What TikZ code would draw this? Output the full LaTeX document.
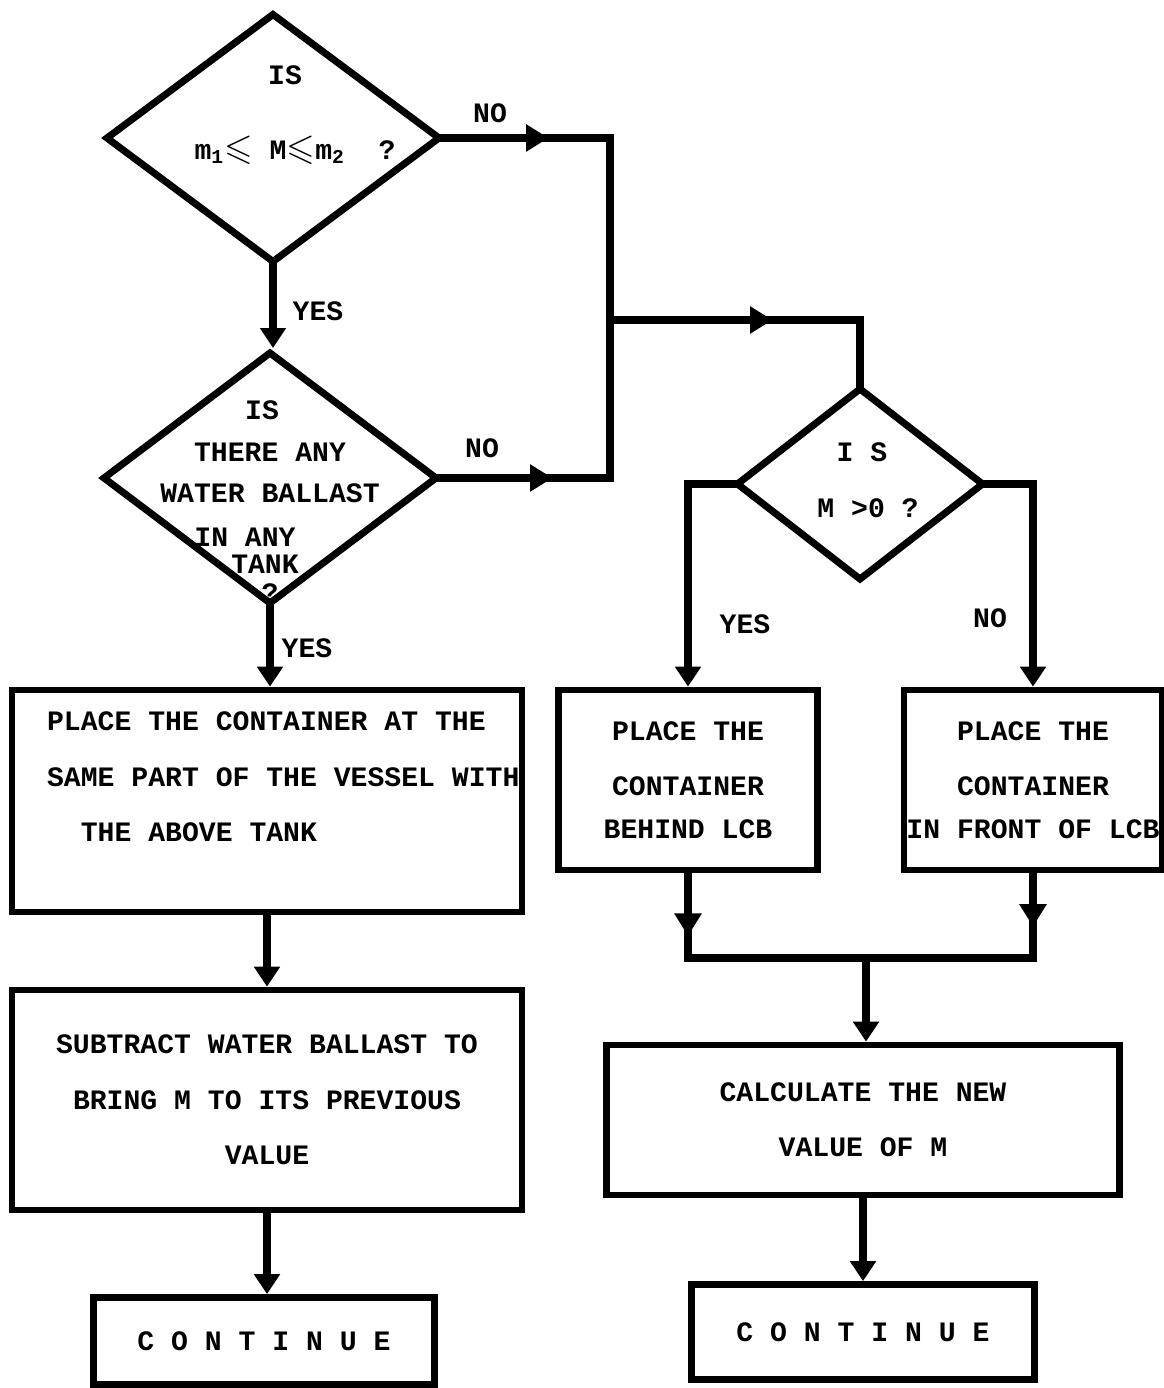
\documentclass[tikz,border=0pt]{standalone}
\usepackage{fontspec}
\usepackage{amssymb}
\newfontfamily\flowfont{Liberation Mono}
\usepackage{tikz}
\usetikzlibrary{shapes.geometric,arrows.meta,decorations.markings}
\tikzset{
    decision/.style={
        diamond,draw,line width=4pt,
        inner sep=0pt,minimum width=6.7cm,minimum height=5cm
    },
    action/.style={
        draw,line width=3.8pt,
        align=center,inner sep=0pt,
        font=\flowfont\bfseries\fontsize{16}{31.5}\selectfont
    },
    flow text/.style={
        font=\flowfont\bfseries\fontsize{16}{31.5}\selectfont,
        inner sep=1pt
    },
    flow line/.style={line width=5pt,line cap=rect},
    mid arrow/.style={
        postaction={decorate},
        decoration={markings,
            mark=at position #1 with {\arrow{Triangle[length=0.45cm,width=0.52cm]}}}
    },
    >={Triangle[length=0.4cm,width=0.5cm]}
}
\newcommand{\bigleq}{{\fontsize{21}{21}\selectfont$\leqslant$}}
\begin{document}
\begin{tikzpicture}[x=0.02cm,y=-0.02cm]
\useasboundingbox (0,0) rectangle (1163,1388);
% decisions
\node[decision] (range) at (273,138) {};
\node[decision,minimum height=5.06cm] (ballast) at (270,478) {};
\node[decision,minimum width=4.96cm,minimum height=3.86cm] (sign) at (860,484) {};
\node[flow text] (range is) at (285,75) {IS};
\node[flow text] (range q) at (295,150) {m\textsubscript{1}\bigleq\ M\bigleq m\textsubscript{2}~~?};
\foreach \x/\y/\txt in {262/410/IS,270/452/THERE ANY,270/493/WATER BALLAST,245/537/IN ANY,265/564/TANK,270/593/?}
    \node[flow text,inner sep=0pt] (ballast \y) at (\x,\y) {\txt};
\node[flow text] (sign is) at (862,452) {I S};
\node[flow text] (sign q) at (868,508) {M >0 ?};
% boxes
\node[action,minimum width=10.2cm,minimum height=4.44cm] (place same) at (267,801) {};
\node[flow text,align=left,anchor=north west] (place same text) at (45,710)
    {PLACE THE CONTAINER AT THE\\SAME PART OF THE VESSEL WITH\\\hspace*{1.2em}THE ABOVE TANK};
\node[action,minimum width=10.2cm,minimum height=4.4cm] (subtract) at (267,1100)
    {SUBTRACT WATER BALLAST TO\\BRING M TO ITS PREVIOUS\\VALUE};
\node[action,minimum width=6.82cm,minimum height=1.74cm] (cont left) at (264,1341) {C O N T I N U E};
\node[action,minimum width=5.18cm,minimum height=3.6cm] (behind) at (688,780)
    {PLACE THE\\CONTAINER\\[-7.5pt]BEHIND LCB};
\node[action,minimum width=5.16cm,minimum height=3.6cm] (front) at (1033,780)
    {PLACE THE\\CONTAINER\\[-7.5pt]IN FRONT OF LCB};
\node[action,minimum width=10.26cm,minimum height=3cm] (calc) at (863,1120)
    {CALCULATE THE NEW\\VALUE OF M};
\node[action,minimum width=6.86cm,minimum height=1.9cm] (cont right) at (863,1332) {C O N T I N U E};
% labels
\node[flow text] (range no) at (490,113) {NO};
\node[flow text] (range yes) at (318,311) {YES};
\node[flow text] (ballast no) at (482,448) {NO};
\node[flow text] (ballast yes) at (307,648) {YES};
\node[flow text] (sign yes) at (745,624) {YES};
\node[flow text] (sign no) at (990,618) {NO};
% connectors
\coordinate (bus) at (610,320);
\coordinate (merge) at (866,958);
\draw[flow line,mid arrow=0.63] (range.east) -- (range.east -| bus);
\draw[flow line] (range.east -| bus) -- (ballast.east -| bus);
\draw[flow line,mid arrow=0.66] (ballast.east) -- (ballast.east -| bus);
\draw[flow line,mid arrow=0.65] (bus) -- (bus -| sign.north);
\draw[flow line] (bus -| sign.north) -- (sign.north);
\draw[flow line,->] (range.south) -- (range.south |- ballast.north);
\draw[flow line,->] (ballast.south) -- (ballast.south |- place same.north);
\draw[flow line,->] (sign.west) -- (sign.west -| behind.north) -- (behind.north);
\draw[flow line,->] (sign.east) -- (sign.east -| front.north) -- (front.north);
\draw[flow line,->] (place same.south) -- (subtract.north);
\draw[flow line,->] (subtract.south) -- (subtract.south |- cont left.north);
\draw[flow line,mid arrow=0.74] (behind.south) -- (behind.south |- merge);
\draw[flow line,mid arrow=0.63] (front.south) -- (front.south |- merge);
\draw[flow line] (behind.south |- merge) -- (front.south |- merge);
\draw[flow line,->] (merge) -- (merge |- calc.north);
\draw[flow line,->] (calc.south) -- (cont right.north);
\end{tikzpicture}
\end{document}
